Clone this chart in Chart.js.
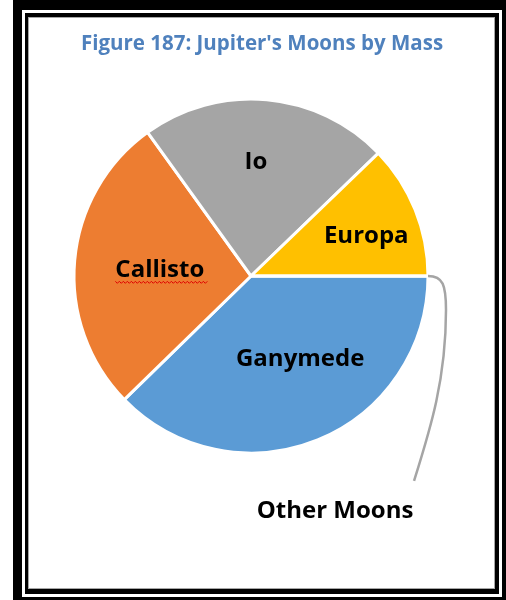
<!DOCTYPE html>
<html>
<head>
<meta charset="utf-8">
<title>Jupiter's Moons by Mass</title>
<script src="https://cdn.jsdelivr.net/npm/chart.js@4.4.1/dist/chart.umd.min.js"></script>
<style>
    html, body { margin: 0; padding: 0; background: #fff; }
    #page { position: relative; width: 506px; height: 600px; overflow: hidden; background: #fff; }
    .frame-outer {
        position: absolute; left: 13px; top: 0; width: 493px; height: 600px;
        box-sizing: border-box; border: solid #000;
        border-width: 10px 4px 3px 9px;
    }
    .frame-inner {
        position: absolute; left: 25px; top: 13px; width: 474px; height: 581px;
        box-sizing: border-box; border: solid #000;
        border-width: 4px 4px 5px 3px;
        box-shadow: inset 0 0 0 1px #a6a6a6;
    }
    #moonChart { position: absolute; left: 0; top: 0; }
</style>
</head>
<body>
<div id="page">
    <div class="frame-outer"></div>
    <div class="frame-inner"></div>
    <canvas id="moonChart" width="506" height="600"></canvas>
</div>
<script>
// Mass of each moon, in 10^20 kg
const moonNames = ['Ganymede', 'Callisto', 'Io', 'Europa', 'Other Moons'];
const moonMass = [1482, 1076, 893, 480, 0.1];
const sliceColors = ['#5B9BD5', '#ED7D31', '#A5A5A5', '#FFC000', '#4472C4'];
const chartTitle = "Figure 187: Jupiter's Moons by Mass";

const labelFont = 'bold 24px "Open Sans", Lato, sans-serif';

// where each label sits: fraction of radius along the slice middle, plus a nudge (baseline)
const labelPlacement = {
    'Ganymede': { f: 0.55, dx: 12.5, dy: 0 },
    'Callisto': { f: 0.5, dx: -3, dy: 9, squiggle: true },
    'Io': { f: 0.655, dx: -5.5, dy: 8.5 },
    'Europa': { f: 0.69, dx: 2, dy: 12.5 }
};

const moonLabels = {
    id: 'moonLabels',
    afterDatasetsDraw(chart) {
        const ctx = chart.ctx;
        const meta = chart.getDatasetMeta(0);

        ctx.save();
        // title
        ctx.font = 'bold 20.5px "Open Sans", Lato, sans-serif';
        ctx.fillStyle = '#4F81BD';
        ctx.textAlign = 'center';
        ctx.textBaseline = 'alphabetic';
        ctx.fillText(chartTitle, 262, 50);

        ctx.font = labelFont;
        ctx.fillStyle = '#000';

        meta.data.forEach((arc, i) => {
            const p = arc.getProps(['x', 'y', 'startAngle', 'endAngle', 'outerRadius'], true);
            const mid = (p.startAngle + p.endAngle) / 2;
            const name = moonNames[i];
            const place = labelPlacement[name];

            if (place) {
                const lx = p.x + Math.cos(mid) * p.outerRadius * place.f + place.dx;
                const ly = p.y + Math.sin(mid) * p.outerRadius * place.f + place.dy;
                ctx.fillText(name, lx, ly);

                if (place.squiggle) {
                    // spell-check underline, as in the original document
                    const w = ctx.measureText(name).width;
                    const x0 = lx - w / 2;
                    ctx.beginPath();
                    ctx.strokeStyle = '#E00000';
                    ctx.lineWidth = 1;
                    let up = true;
                    for (let sx = x0; sx <= lx + w / 2 + 4; sx += 2) {
                        const sy = ly + 5 + (up ? -1 : 1);
                        if (sx === x0) ctx.moveTo(sx, sy); else ctx.lineTo(sx, sy);
                        up = !up;
                    }
                    ctx.stroke();
                }
            } else {
                // tiny slice: leader line out to a label below the pie
                const ax = p.x + Math.cos(mid) * p.outerRadius;
                const ay = p.y + Math.sin(mid) * p.outerRadius;
                ctx.beginPath();
                ctx.strokeStyle = '#A5A5A5';
                ctx.lineWidth = 2.5;
                ctx.moveTo(ax, ay);
                ctx.bezierCurveTo(ax + 15, ay, ax + 18, ay + 9, ax + 18, ay + 34);
                ctx.bezierCurveTo(ax + 18, ay + 104, ax + 2, ay + 154, ax - 14, ay + 205);
                ctx.stroke();
                ctx.fillText(name, ax - 93, ay + 242);
            }
        });
        ctx.restore();
    }
};

document.addEventListener('DOMContentLoaded', function() {
    const ctx = document.getElementById('moonChart');

    new Chart(ctx, {
        type: 'pie',
        data: {
            labels: moonNames,
            datasets: [{
                data: moonMass,
                backgroundColor: sliceColors,
                borderColor: '#ffffff',
                borderWidth: 3,
                hoverOffset: 0
            }]
        },
        options: {
            responsive: false,
            animation: false,
            rotation: 90,
            layout: {
                padding: { left: 72.5, right: 76.5, top: 97.5, bottom: 145.5 }
            },
            plugins: {
                legend: { display: false },
                title: { display: false },
                tooltip: { enabled: false }
            }
        },
        plugins: [moonLabels]
    });
});
</script>
</body>
</html>
